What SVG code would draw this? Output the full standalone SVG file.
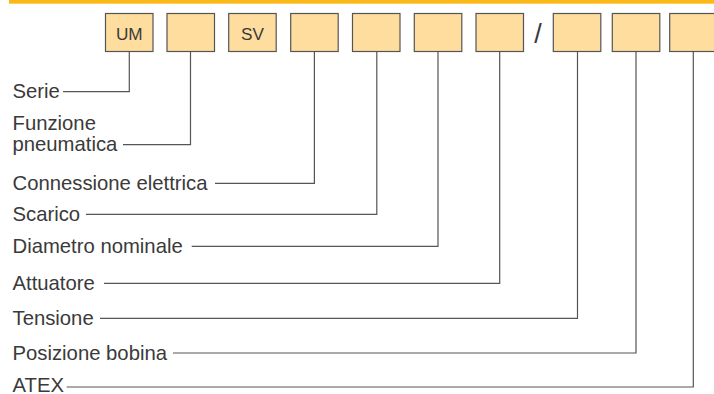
<svg xmlns="http://www.w3.org/2000/svg" width="714" height="394" viewBox="0 0 714 394">
<style>
.box{fill:#fedd9f;stroke:#555;stroke-width:1.2}
.bt{font-family:"Liberation Sans",Arial,sans-serif;font-size:17.2px;fill:#3a3a3a;text-anchor:middle}
.lb{font-family:"Liberation Sans",Arial,sans-serif;font-size:20.3px;fill:#3a3a3a}
.cn{fill:none;stroke:#555;stroke-width:1.2}
</style>
<rect x="9" y="0" width="705" height="3.7" fill="#fbb919"/>
<g id="nodes">
<g id="n1"><rect class="box" x="105.5" y="13.5" width="47.5" height="38"/><text class="bt" x="129.3" y="39.5">UM</text></g>
<g id="n2"><rect class="box" x="167" y="13.5" width="47.5" height="38"/></g>
<g id="n3"><rect class="box" x="228.7" y="13.5" width="47.5" height="38"/><text class="bt" x="252.5" y="39.5">SV</text></g>
<g id="n4"><rect class="box" x="290.7" y="13.5" width="47.5" height="38"/></g>
<g id="n5"><rect class="box" x="352.5" y="13.5" width="47.5" height="38"/></g>
<g id="n6"><rect class="box" x="414.3" y="13.5" width="47.5" height="38"/></g>
<g id="n7"><rect class="box" x="476" y="13.5" width="47.5" height="38"/></g>
<g id="sep"><text class="bt" x="538" y="43" style="font-size:27px">/</text></g>
<g id="n8"><rect class="box" x="553.3" y="13.5" width="47.5" height="38"/></g>
<g id="n9"><rect class="box" x="612.3" y="13.5" width="47.5" height="38"/></g>
<g id="n10"><rect class="box" x="669.7" y="13.5" width="47.5" height="38"/></g>
</g>
<g id="labels">
<text class="lb" x="12.5" y="97.8">Serie</text>
<text class="lb" x="12.5" y="129.5">Funzione</text>
<text class="lb" x="12.5" y="151">pneumatica</text>
<text class="lb" x="12.5" y="190">Connessione elettrica</text>
<text class="lb" x="12.5" y="221">Scarico</text>
<text class="lb" x="12.5" y="253">Diametro nominale</text>
<text class="lb" x="12.5" y="290">Attuatore</text>
<text class="lb" x="12.5" y="325">Tensione</text>
<text class="lb" x="12.5" y="360">Posizione bobina</text>
<text class="lb" x="12.5" y="391.5">ATEX</text>
</g>
<g id="connectors">
<path class="cn" d="M63 91.7H129.3V51.5"/>
<path class="cn" d="M123 144.7H190.5V51.5"/>
<path class="cn" d="M215 183.3H314.4V51.5"/>
<path class="cn" d="M86 214.3H376.8V51.5"/>
<path class="cn" d="M191.7 246.3H438V51.5"/>
<path class="cn" d="M104 283.3H499.7V51.5"/>
<path class="cn" d="M100 318.3H577.5V51.5"/>
<path class="cn" d="M173 353H636V51.5"/>
<path class="cn" d="M66.7 387H693.3V51.5"/>
</g>
</svg>
